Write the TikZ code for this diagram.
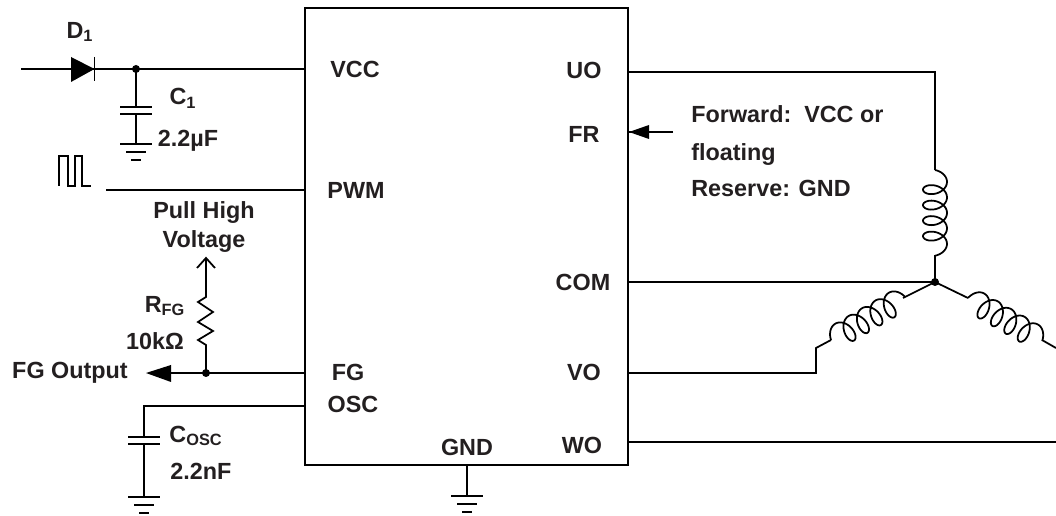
\documentclass[tikz,border=0pt]{standalone}
\usepackage{fontspec}
\setmainfont{Liberation Sans}
\usepackage{xcolor}
\definecolor{inkgray}{HTML}{231F20}
\tikzset{
  wire/.style={line width=1pt, line join=miter},
  lbl/.style={font=\fontsize{13.3}{15}\selectfont\bfseries, text=inkgray, inner sep=0pt},
  lblleft/.style={lbl, anchor=base west},
  ground/.pic={
    \draw[wire] (-16,0) -- (16,0);
    \draw[wire] (-10,8) -- (10,8);
    \draw[wire] (-5,16) -- (5,16);
  },
  plates/.pic={
    \draw[wire] (-16,0) -- (16,0);
    \draw[wire] (-16,7) -- (16,7);
  }
}
\newcommand{\motorcoil}[2]{%
  \draw[wire, shift={(#1)}, rotate=#2] plot[domain=-90:1530, samples=160, smooth]
    ({12*cos(\x)}, {11.875+\x/360*15.5+8*sin(\x)});
}
\begin{document}
\begin{tikzpicture}[x=0.02cm, y=-0.02cm]
    \useasboundingbox (0,0) rectangle (1056,516);

    % IC package
    \node[draw, line width=1pt, minimum width=6.46cm, minimum height=9.14cm, inner sep=0pt] (icbox) at (466.5,236.5) {};

    % Pin labels
    \node[lbl] (vcclbl) at (355,69) {VCC};
    \node[lbl] (pwmlbl) at (356,190) {PWM};
    \node[lbl] (fglbl) at (348,372) {FG};
    \node[lbl] (osclbl) at (353,404) {OSC};
    \node[lbl] (gndlbl) at (467,447) {GND};
    \node[lbl] (uolbl) at (584,70) {UO};
    \node[lbl] (frlbl) at (584,134) {FR};
    \node[lbl] (comlbl) at (583,282) {COM};
    \node[lbl] (volbl) at (584,372) {VO};
    \node[lbl] (wolbl) at (582,445) {WO};

    % Points on the package
    \coordinate (vccpin) at (305,69);
    \coordinate (pwmpin) at (305,190);
    \coordinate (fgpin) at (305,373);
    \coordinate (oscpin) at (305,406);
    \coordinate (gndpin) at (467,465);
    \coordinate (uopin) at (628,72);
    \coordinate (frpin) at (629,132);
    \coordinate (compin) at (628,282);
    \coordinate (vopin) at (628,373);
    \coordinate (wopin) at (628,442);

    % Diode and C1
    \coordinate (vccin) at (21,69);
    \coordinate (diodeK) at (94.5,69);
    \coordinate (c1top) at (136,69);
    \draw[wire] (vccin) -- (vccpin);
    \fill[black] (71,57) -- (diodeK) -- (71,82) -- cycle;
    \draw[wire] (94.5,57) -- (94.5,81);
    \fill (c1top) circle (4);
    \coordinate (c1a) at (136,107);
    \coordinate (c1b) at (136,114);
    \coordinate (c1gnd) at (136,144);
    \draw[wire] (c1top) -- (c1a);
    \pic at (c1a) {plates};
    \draw[wire] (c1b) -- (c1gnd);
    \pic at (c1gnd) {ground};
    \node[lbl] (d1lbl) at (80,32) {D\textsubscript{1}};
    \node[lbl] (c1lbl) at (183,98) {C\textsubscript{1}};
    \node[lbl] (c1val) at (188,141) {2.2µF};

    % PWM input
    \draw[wire] (59,186) -- (59,156) -- (68,156) -- (68,186) -- (75,186) -- (75,156) -- (82,156) -- (82,186) -- (91,186);
    \coordinate (pwmin) at (106,190);
    \draw[wire] (pwmin) -- (pwmpin);

    % Pull up and FG output
    \node[lbl] (pulllbl) at (204,213) {Pull High};
    \node[lbl] (voltlbl) at (204,242) {Voltage};
    \coordinate (pulltip) at (206,258);
    \coordinate (fgnode) at (206,373);
    \draw[wire] (197,268) -- (pulltip) -- (215,268);
    \draw[wire] (pulltip) -- (206,297) -- (198,302) -- (213,312) -- (198,322) -- (213,331) -- (198,340) -- (206,345) -- (fgnode);
    \fill (fgnode) circle (4);
    \coordinate (fgarrow) at (171,373);
    \draw[wire] (fgarrow) -- (fgpin);
    \fill[black] (146,373) -- (171,365) -- (171,382) -- cycle;
    \node[lbl] (rfglbl) at (165,306) {R\textsubscript{FG}};
    \node[lbl] (rfgval) at (155,341) {10kΩ};
    \node[lbl] (fgout) at (70,373) {FG Output};

    % Cosc
    \coordinate (cosccorner) at (144,406);
    \coordinate (cosca) at (144,437);
    \coordinate (coscb) at (144,444);
    \coordinate (coscgnd) at (144,497);
    \draw[wire] (oscpin) -- (cosccorner) -- (cosca);
    \pic at (cosca) {plates};
    \draw[wire] (coscb) -- (coscgnd);
    \pic at (coscgnd) {ground};
    \node[lbl] (cosclbl) at (196,436) {C\textsubscript{OSC}};
    \node[lbl] (coscval) at (201,471) {2.2nF};

    % GND pin
    \coordinate (gndref) at (467,496);
    \draw[wire] (gndpin) -- (gndref);
    \pic at (gndref) {ground};

    % FR note
    \coordinate (frtail) at (673,132);
    \draw[wire] (frtail) -- (frpin);
    \fill[black] (frpin) -- (649,125) -- (649,139) -- cycle;
    \node[lblleft] (fwdlbl) at (691,123) {Forward:\ \ VCC or};
    \node[lblleft] (floatlbl) at (691,161) {floating};
    \node[lblleft] (revlbl) at (691,197) {Reserve: GND};

    % Motor windings
    \coordinate (star) at (935,282);
    \coordinate (ucorner) at (935,72);
    \coordinate (ucoil) at (935,170);
    \coordinate (ucoilend) at (935,255);
    \coordinate (vcorner) at (816,373);
    \coordinate (vbend) at (816,348);
    \coordinate (vcoil) at (831,340);
    \coordinate (vcoilend) at (903,298);
    \coordinate (wcoil) at (968,298);
    \coordinate (wcoilend) at (1042,340);
    \coordinate (wout) at (1056,348);
    \coordinate (woend) at (1056,442);
    \draw[wire] (uopin) -- (ucorner) -- (ucoil);
    \motorcoil{ucoil}{0}
    \draw[wire] (ucoilend) -- (star);
    \draw[wire] (compin) -- (star);
    \fill (star) circle (4);
    \draw[wire] (vopin) -- (vcorner) -- (vbend) -- (vcoil);
    \motorcoil{vcoil}{120}
    \draw[wire] (vcoilend) -- (star);
    \draw[wire] (star) -- (wcoil);
    \motorcoil{wcoil}{60}
    \draw[wire] (wcoilend) -- (wout);
    \draw[wire] (wopin) -- (woend);
\end{tikzpicture}
\end{document}
